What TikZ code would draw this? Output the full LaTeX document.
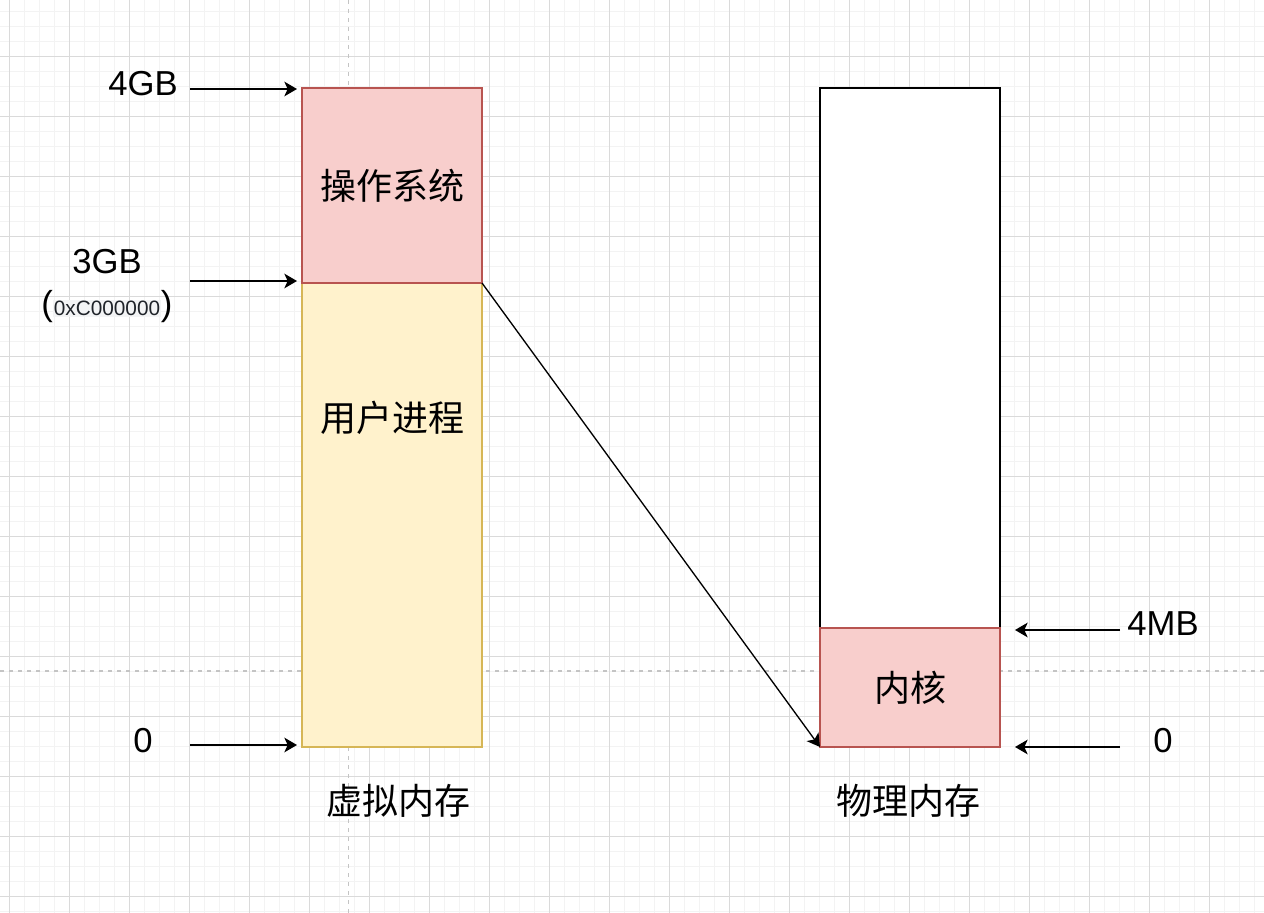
\documentclass[tikz,border=0pt]{standalone}
\usepackage{fontspec}
\setmainfont{Liberation Sans}
\newfontfamily\cjk{Noto Sans CJK SC}
\usetikzlibrary{arrows.meta}
\definecolor{gridminor}{HTML}{F3F3F3}
\definecolor{gridmajor}{HTML}{DADADA}
\definecolor{dashgray}{HTML}{C4C4C4}
\definecolor{redfill}{HTML}{F8CECC}
\definecolor{redline}{HTML}{B85450}
\definecolor{yelfill}{HTML}{FFF2CC}
\definecolor{yelline}{HTML}{D6B656}
\definecolor{hlgray}{HTML}{F3F4F5}
\definecolor{hltext}{HTML}{1F2329}
\tikzset{
  box/.style={draw, line width=1pt, minimum width=135pt, inner sep=0pt, outer sep=0pt},
  redbox/.style={box, fill=redfill, draw=redline},
  yelbox/.style={box, fill=yelfill, draw=yelline},
  whitebox/.style={box, fill=white, draw=black},
  lbl/.style={font=\fontsize{26}{30}\selectfont, inner sep=0pt},
  cjklbl/.style={font=\cjk\fontsize{27}{32}\selectfont, inner sep=0pt},
  arr/.style={line width=1pt, -{Stealth[length=9.5pt,width=11pt,inset=2.5pt]}},
}
\begin{document}
\begin{tikzpicture}[x=0.75pt,y=-0.75pt]
\useasboundingbox (0,0) rectangle (1264,913);
\fill[white] (0,0) rectangle (1264,913);
% grid
\foreach \i in {0,...,85} {
  \draw[gridminor, line width=0.75pt] ({-5.67+15*\i},0) -- ({-5.67+15*\i},913);
}
\foreach \i in {0,...,61} {
  \draw[gridminor, line width=0.75pt] (0,{-3.33+15*\i}) -- (1264,{-3.33+15*\i});
}
\foreach \i in {0,...,21} {
  \draw[gridmajor, line width=0.75pt] ({9.33+60*\i},0) -- ({9.33+60*\i},913);
}
\foreach \i in {0,...,14} {
  \draw[gridmajor, line width=0.75pt] (0,{56.67+60*\i}) -- (1264,{56.67+60*\i});
}
\draw[dashgray, line width=0.9pt, dash pattern=on 3pt off 3.75pt] (348.3,0) -- (348.3,913);
\draw[dashgray, line width=0.9pt, dash pattern=on 3pt off 3.75pt] (0,671) -- (1264,671);

% boxes
\node[yelbox, minimum height=348pt] (user) at (392,515) {};
\node[redbox, minimum height=146.25pt, cjklbl] (os) at (392,185.5) {操作系统};
\node[cjklbl] (usertext) at (392,418) {用户进程};
\node[whitebox, minimum height=405pt] (phys) at (910,358) {};
\node[redbox, minimum height=89.25pt, cjklbl] (kern) at (910,687.5) {内核};

% labels
\node[lbl] (l4gb) at (143,84) {4GB};
\node[lbl] (l3gb) at (107,262) {3GB};
\node[lbl, anchor=base] (lhex) at (107,315.5) {(\fontsize{15.6}{18}\selectfont\setlength{\fboxsep}{0.6pt}\colorbox{hlgray}{\textcolor{hltext}{0xC000000}}\fontsize{26}{30}\selectfont)};
\node[lbl] (l0a) at (143,741) {0};
\node[lbl] (l4mb) at (1163,624) {4MB};
\node[lbl] (l0b) at (1163,741) {0};
\node[cjklbl] (vmem) at (398,801) {虚拟内存};
\node[cjklbl] (pmem) at (908,801) {物理内存};

% arrow endpoints
\coordinate (s4gb) at (190,89);
\coordinate (e4gb) at (297,89);
\coordinate (s3gb) at (190,281);
\coordinate (e3gb) at (297,281);
\coordinate (s0a) at (190,745);
\coordinate (e0a) at (297,745);
\coordinate (s4mb) at (1120,630);
\coordinate (e4mb) at (1015,630);
\coordinate (s0b) at (1120,747);
\coordinate (e0b) at (1015,747);

\draw[arr] (s4gb) -- (e4gb);
\draw[arr] (s3gb) -- (e3gb);
\draw[arr] (s0a) -- (e0a);
\draw[arr] (s4mb) -- (e4mb);
\draw[arr] (s0b) -- (e0b);
\draw[arr] (os.south east) -- (kern.south west);
\end{tikzpicture}
\end{document}
